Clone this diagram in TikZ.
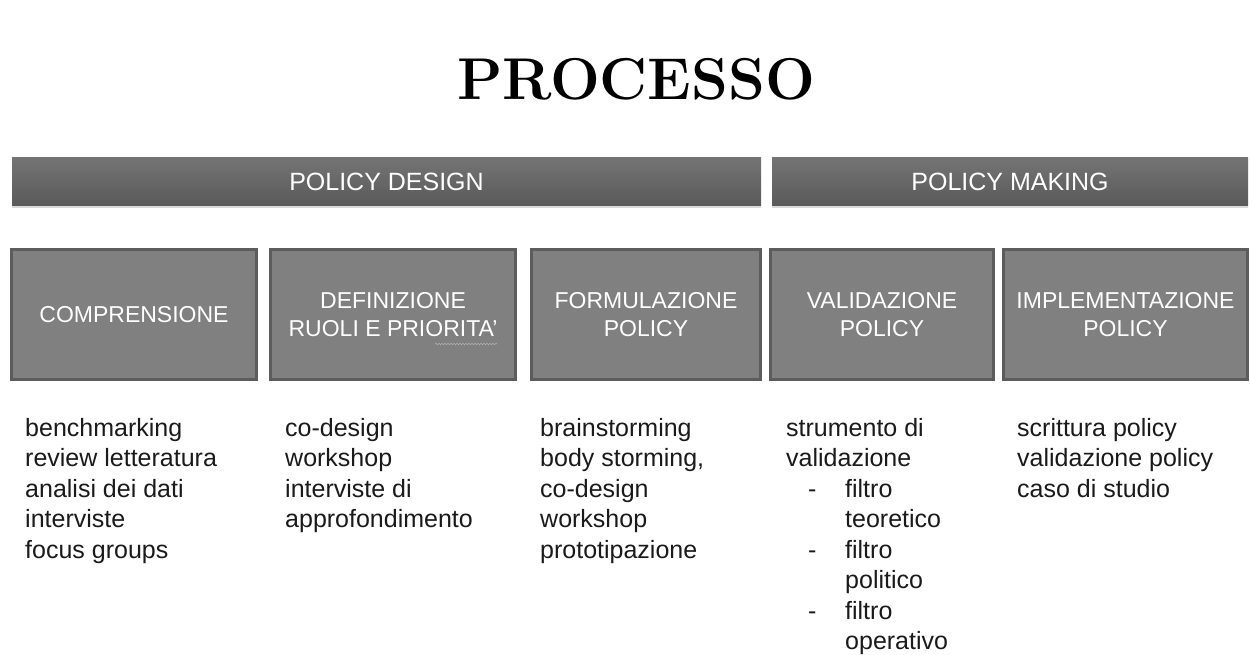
\documentclass[tikz,border=0pt]{standalone}
\usepackage{fontspec}
\setsansfont{Liberation Sans}
\usetikzlibrary{shadows,decorations.pathmorphing}

\definecolor{bannertop}{HTML}{747474}
\definecolor{bannerbot}{HTML}{595959}
\definecolor{boxfill}{HTML}{808080}
\definecolor{boxline}{HTML}{5C5C5C}
\definecolor{listtext}{HTML}{1A1A1A}

\begin{document}
\begin{tikzpicture}[x=1pt,y=-1pt]
		\tikzset{banner/.style = {shape=rectangle, top color=bannertop, bottom color=bannerbot, minimum height=48pt, inner sep=0pt, text=white, font=\sffamily\fontsize{25}{30}\selectfont, drop shadow={shadow xshift=0pt, shadow yshift=-2pt, opacity=0.3}}}
		\tikzset{phase/.style = {shape=rectangle, draw=boxline, line width=3pt, fill=boxfill, minimum height=130pt, inner sep=0pt, text=white, align=center, font=\sffamily\fontsize{23}{28.5}\selectfont}}
		\tikzset{tasks/.style = {anchor=base west, align=left, inner sep=0pt, text=listtext, font=\sffamily\fontsize{25}{30.5}\selectfont}}

		\useasboundingbox (0,0) rectangle (1250,655);

		\node[font=\bfseries\fontsize{59}{60}\selectfont, anchor=base] (title) at (636,100) {PROCESSO};

		\node[banner, minimum width=749pt] (D) at (386.5,182) {POLICY DESIGN};
		\node[banner, minimum width=476pt] (M) at (1010,182) {POLICY MAKING};

		\node[phase, minimum width=245pt] (F_1) at (134,314.5) {COMPRENSIONE};
		\node[phase, minimum width=245pt] (F_2) at (393,314.5) {DEFINIZIONE\\RUOLI E PRIORITA'};
		\node[phase, minimum width=229pt] (F_3) at (646,314.5) {FORMULAZIONE\\POLICY};
		\node[phase, minimum width=223pt] (F_4) at (882,314.5) {VALIDAZIONE\\POLICY};
		\node[phase, minimum width=244pt] (F_5) at (1125.5,314.5) {IMPLEMENTAZIONE\\POLICY};

		\draw[gray!60, line width=0.6pt, decorate, decoration={snake, amplitude=0.7pt, segment length=3pt}] (435,344) -- (497,344);

		% lists are placed by the baseline of their last line
		\node[tasks] (T_1) at (25,558) {benchmarking\\review letteratura\\analisi dei dati\\interviste\\focus groups};
		\node[tasks] (T_2) at (285,527.5) {co-design\\workshop\\interviste di\\approfondimento};
		\node[tasks] (T_3) at (540,558) {brainstorming\\body storming,\\co-design\\workshop\\prototipazione};
		\node[tasks] (T_4) at (786,649.5) {strumento di\\validazione\\
			\makebox[59pt][l]{\hspace*{22pt}-}filtro\\\hspace*{59pt}teoretico\\
			\makebox[59pt][l]{\hspace*{22pt}-}filtro\\\hspace*{59pt}politico\\
			\makebox[59pt][l]{\hspace*{22pt}-}filtro\\\hspace*{59pt}operativo};
		\node[tasks] (T_5) at (1017,497) {scrittura policy\\validazione policy\\caso di studio};

	\end{tikzpicture}
\end{document}
